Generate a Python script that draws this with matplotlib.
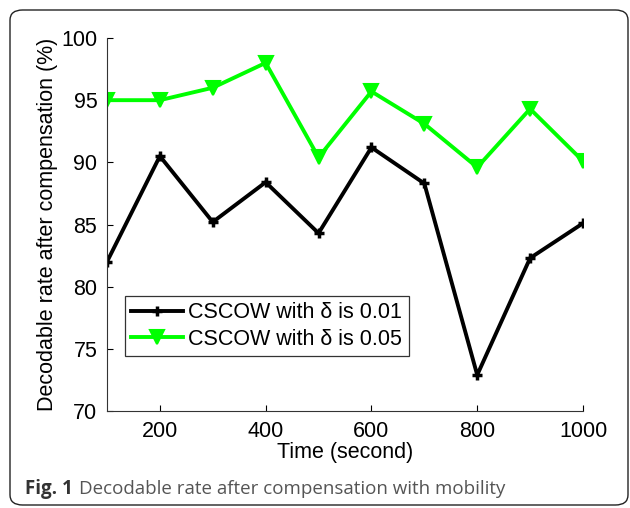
import matplotlib
matplotlib.use("Agg")
import matplotlib.pyplot as plt
from matplotlib.patches import FancyBboxPatch

time_s = [100, 200, 300, 400, 500, 600, 700, 800, 900, 1000]
rate_001 = [82.0, 90.5, 85.2, 88.4, 84.3, 91.2, 88.3, 72.9, 82.3, 85.1]
rate_005 = [95.0, 95.0, 96.0, 98.0, 90.4, 95.7, 93.1, 89.6, 94.3, 90.1]
xticks = [200, 400, 600, 800, 1000]
yticks = [70, 75, 80, 85, 90, 95, 100]
labels = ["CSCOW with δ is 0.01", "CSCOW with δ is 0.05"]

plt.rcParams['font.family'] = ['Liberation Sans', 'DejaVu Sans']

fig = plt.figure(figsize=(6.3, 5.08), dpi=100)
ax = fig.add_axes([0.1698, 0.1909, 0.7556, 0.7343])

ax.plot(time_s, rate_001, color='black', lw=2.8, marker='+', ms=7, mew=2.5,
        label=labels[0])
ax.plot(time_s, rate_005, color='#00ff00', lw=2.8, marker='v', ms=10, mew=1.5,
        label=labels[1])

ax.set_xlim(100, 1000)
ax.set_ylim(70, 100)
ax.set_xticks(xticks)
ax.set_yticks(yticks)
ax.tick_params(direction='in', length=4, width=0.8, labelsize=15.5, pad=7,
               colors='black')
for s in ['top', 'right']:
    ax.spines[s].set_visible(False)
for s in ['left', 'bottom']:
    ax.spines[s].set_linewidth(0.8)
    ax.spines[s].set_color('#333333')

ax.set_xlabel('Time (second)', fontsize=15.5, labelpad=0)
ax.set_ylabel('Decodable rate after compensation (%)', fontsize=15.5, labelpad=2)

leg = ax.legend(loc='upper left', bbox_to_anchor=(18 / 476, 115 / 373), fontsize=15.5,
                frameon=True, fancybox=False, edgecolor='black',
                handlelength=2.4, handletextpad=0.25, borderpad=0.3,
                labelspacing=0.25, borderaxespad=0)
leg.get_frame().set_linewidth(0.9)

frame = FancyBboxPatch((10 / 630, 3 / 508), 618 / 630, 495 / 508,
                       boxstyle='round,pad=0,rounding_size=0.02',
                       transform=fig.transFigure, fill=False,
                       edgecolor='#222222', lw=1.0)
fig.add_artist(frame)

fig.text(25 / 630, 1 - 489 / 508, 'Fig. 1', fontsize=13.5, fontweight='bold',
         color='#333333', va='center', family=['Open Sans', 'DejaVu Sans'])
fig.text(79 / 630, 1 - 489 / 508, 'Decodable rate after compensation with mobility',
         fontsize=13.5, color='#555555', va='center',
         family=['Open Sans', 'DejaVu Sans'])

fig.savefig('out.png', dpi=100)
